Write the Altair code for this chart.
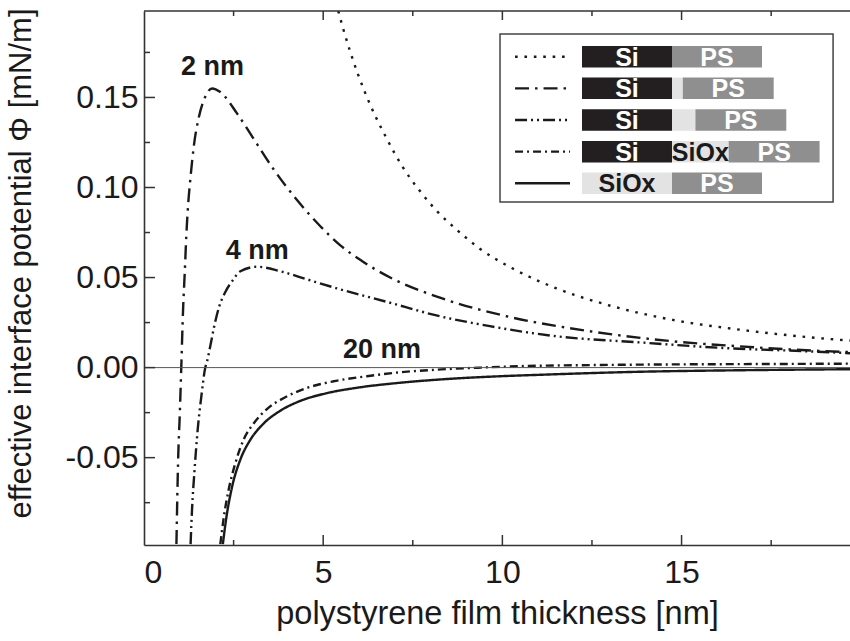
import altair as alt
import pandas as pd

# ---------------- data ----------------
series_names = ["Si/PS", "Si/2nm SiOx/PS", "Si/4nm SiOx/PS", "Si/20nm SiOx/PS", "SiOx/PS"]

x_si_ps = [5.42, 5.56, 5.95, 6.31, 6.75, 7.23, 7.70, 8.17, 8.73, 9.37, 10.29, 11.51, 12.90, 14.75, 16.61, 18.47, 19.7]
y_si_ps = [0.198, 0.188, 0.164, 0.146, 0.128, 0.111, 0.098, 0.087, 0.0765, 0.066, 0.055, 0.044, 0.035, 0.0265, 0.0211, 0.017, 0.015]

x_2nm = [0.905, 0.95, 1.00, 1.04, 1.09, 1.14, 1.18, 1.23, 1.30, 1.39, 1.53, 1.70, 1.90, 2.13, 2.60, 3.06, 3.62, 4.27, 4.92, 5.47, 6.08, 6.87, 8.26, 10.12, 12.44, 14.76, 16.62, 18.94, 19.7]
y_2nm = [-0.098, -0.053, -0.025, 0.0, 0.032, 0.054, 0.073, 0.090, 0.106, 0.123, 0.139, 0.150, 0.155, 0.153, 0.141, 0.127, 0.110, 0.093, 0.0785, 0.068, 0.0592, 0.0500, 0.0388, 0.0285, 0.0202, 0.0146, 0.0118, 0.0092, 0.0086]

x_4nm = [1.30, 1.34, 1.41, 1.50, 1.60, 1.71, 1.76, 1.85, 1.96, 2.10, 2.27, 2.46, 2.69, 3.15, 3.80, 4.55, 5.38, 6.87, 8.07, 9.65, 11.51, 13.83, 16.15, 18.47, 19.7]
y_4nm = [-0.098, -0.079, -0.057, -0.034, -0.016, 0.0, 0.0035, 0.012, 0.023, 0.034, 0.042, 0.048, 0.0535, 0.056, 0.0535, 0.049, 0.044, 0.036, 0.0294, 0.023, 0.0174, 0.0140, 0.0109, 0.0091, 0.0080]

x_20nm = [2.13, 2.22, 2.36, 2.55, 2.78, 3.06, 3.43, 3.89, 4.55, 5.29, 6.22, 7.14, 8.3, 9.4, 10.5, 12.5, 15.0, 17.5, 19.7]
y_20nm = [-0.098, -0.084, -0.068, -0.053, -0.040, -0.031, -0.023, -0.017, -0.0113, -0.0076, -0.0048, -0.0026, -0.0010, 0.0, 0.0008, 0.0014, 0.0018, 0.0020, 0.0022]

x_siox = [2.20, 2.30, 2.46, 2.69, 2.97, 3.34, 3.80, 4.36, 5.10, 5.94, 7.05, 8.26, 9.93, 11.04, 13.64, 16.5, 19.7]
y_siox = [-0.098, -0.083, -0.066, -0.051, -0.040, -0.031, -0.0240, -0.0185, -0.0142, -0.0112, -0.0086, -0.0066, -0.0048, -0.0040, -0.0024, -0.0015, -0.0009]

x_ticks_major = [0, 5, 10, 15]
x_ticks_minor = [2.5, 7.5, 12.5, 17.5]
y_ticks_major = [-0.05, 0.0, 0.05, 0.10, 0.15]
y_ticks_minor = [-0.075, -0.025, 0.025, 0.075, 0.125, 0.175]

label_text = ["2 nm", "4 nm", "20 nm"]
label_x = [1.91, 3.16, 6.64]
label_y = [0.167, 0.065, 0.010]

# legend schematic: layer widths in units of the Si block
legend_has_si = [True, True, True, True, False]
legend_oxide_width = [0.0, 0.12, 0.26, 0.63, 1.0]
legend_oxide_label = ["", "", "", "SiOx", "SiOx"]
legend_ps_width = [1.0, 1.01, 1.01, 1.01, 1.0]

# ---------------- layout / style constants ----------------
W, H = 706, 534
FONT = "Liberation Sans, Arial, Helvetica, sans-serif"
INK = "#1a1a1a"
dash_range = [[2.6, 6.8], [14, 6, 2.5, 6], [12, 4, 2, 4, 2, 4], [8, 4, 2, 4], [1, 0]]

xs_all = [x_si_ps, x_2nm, x_4nm, x_20nm, x_siox]
ys_all = [y_si_ps, y_2nm, y_4nm, y_20nm, y_siox]
rows = []
for name, xs, ys in zip(series_names, xs_all, ys_all):
    for i, (xv, yv) in enumerate(zip(xs, ys)):
        rows.append({"series": name, "x": xv, "y": yv, "order": i})
df = pd.DataFrame(rows)

xscale = alt.Scale(domain=[0, 19.7], nice=False, zero=False)
yscale = alt.Scale(domain=[-0.0985, 0.198], nice=False, zero=False)
dash_scale = alt.Scale(domain=series_names, range=dash_range)

curves = alt.Chart(df).mark_line(color=INK, strokeWidth=2.4, clip=True, interpolate="monotone", strokeCap="butt").encode(
    x=alt.X("x:Q", scale=xscale,
            axis=alt.Axis(title="polystyrene film thickness [nm]", values=x_ticks_major, ticks=False,
                          grid=False, labelPadding=12, titlePadding=9, titleFontSize=32.5,
                          domainColor="#333", domainWidth=1.6)),
    y=alt.Y("y:Q", scale=yscale,
            axis=alt.Axis(title="effective interface potential \u03a6 [mN/m]", values=y_ticks_major, ticks=False,
                          grid=False, labelPadding=6, titlePadding=28, titleFontSize=31, titleY=252,
                          domainColor="#333", domainWidth=1.6,
                          labelExpr="replace(format(datum.value, '.2f'), '\u2212', '-')")),
    strokeDash=alt.StrokeDash("series:N", scale=dash_scale, legend=None),
    detail="series:N",
    order="order:Q",
)

zero_line = alt.Chart(pd.DataFrame({"v": [0.0]})).mark_rule(color="#555", strokeWidth=1).encode(
    y=alt.Y("v:Q", scale=yscale, axis=None)
)

def yticks(vals, length):
    return alt.Chart(pd.DataFrame({"v": vals})).mark_rule(color="#333", strokeWidth=1.5).encode(
        y=alt.Y("v:Q", scale=yscale, axis=None),
        x=alt.value(0), x2=alt.value(length),
    )

def xticks(vals, length, top):
    y0 = 0 if top else H
    y1 = length if top else H - length
    return alt.Chart(pd.DataFrame({"v": vals})).mark_rule(color="#333", strokeWidth=1.5).encode(
        x=alt.X("v:Q", scale=xscale, axis=None),
        y=alt.value(y0), y2=alt.value(y1),
    )

top_frame = alt.Chart(pd.DataFrame({"v": [0]})).mark_rule(color="#333", strokeWidth=1.6).encode(
    x=alt.value(0), x2=alt.value(W), y=alt.value(0)
)

labels = alt.Chart(pd.DataFrame({"t": label_text, "x": label_x, "y": label_y})).mark_text(
    font=FONT, fontSize=27, fontWeight="bold", color=INK, align="center", baseline="middle"
).encode(
    x=alt.X("x:Q", scale=xscale, axis=None),
    y=alt.Y("y:Q", scale=yscale, axis=None),
    text="t:N",
)

# ---------------- legend (schematic units) ----------------
blocks = []
texts_white = []
texts_black = []
line_rows = []
half = 0.34
for r, (has_si, ox, oxl, psw) in enumerate(zip(legend_has_si, legend_oxide_width, legend_oxide_label, legend_ps_width)):
    pos = 0.0
    if has_si:
        blocks.append({"row": r, "x0": pos, "x1": pos + 1.0, "mat": "Si", "yt": r - half, "yb": r + half})
        texts_white.append({"row": r, "x": pos + 0.5, "t": "Si"})
        pos += 1.0
    if ox > 0:
        blocks.append({"row": r, "x0": pos, "x1": pos + ox, "mat": "SiOx", "yt": r - half, "yb": r + half})
        if oxl:
            texts_black.append({"row": r, "x": pos + ox / 2, "t": oxl})
        pos += ox
    blocks.append({"row": r, "x0": pos, "x1": pos + psw, "mat": "PS", "yt": r - half, "yb": r + half})
    texts_white.append({"row": r, "x": pos + psw / 2, "t": "PS"})
    line_rows.append({"series": series_names[r], "x": -0.744, "y": r})
    line_rows.append({"series": series_names[r], "x": -0.133, "y": r})

blocks_df = pd.DataFrame(blocks)
max_end = blocks_df["x1"].max()
n_rows = len(legend_has_si)

lx_scale = alt.Scale(domain=[-4.867, 2.978], nice=False, zero=False)
ly_scale = alt.Scale(domain=[-1.444, 15.428], nice=False, zero=False, reverse=True)

box = alt.Chart(pd.DataFrame({"x0": [-0.911], "x1": [max_end + 0.15], "y0": [-0.717], "y1": [n_rows - 1 + 0.59]})).mark_rect(
    fill="white", stroke="#444", strokeWidth=1.5
).encode(
    x=alt.X("x0:Q", scale=lx_scale, axis=None), x2="x1:Q",
    y=alt.Y("y0:Q", scale=ly_scale, axis=None), y2="y1:Q",
)

rects = alt.Chart(blocks_df).mark_rect().encode(
    x=alt.X("x0:Q", scale=lx_scale, axis=None), x2="x1:Q",
    y=alt.Y("yt:Q", scale=ly_scale, axis=None), y2="yb:Q",
    color=alt.Color("mat:N", scale=alt.Scale(domain=["Si", "SiOx", "PS"], range=["#231f20", "#e3e3e3", "#8f8f8f"]), legend=None),
)

leg_lines = alt.Chart(pd.DataFrame(line_rows)).mark_line(color=INK, strokeWidth=2.4, strokeCap="butt").encode(
    x=alt.X("x:Q", scale=lx_scale, axis=None),
    y=alt.Y("y:Q", scale=ly_scale, axis=None),
    strokeDash=alt.StrokeDash("series:N", scale=dash_scale, legend=None),
    detail="series:N",
)

tw = alt.Chart(pd.DataFrame(texts_white)).mark_text(
    font=FONT, fontSize=25, fontWeight="bold", color="white", align="center", baseline="middle", dy=1
).encode(
    x=alt.X("x:Q", scale=lx_scale, axis=None),
    y=alt.Y("row:Q", scale=ly_scale, axis=None),
    text="t:N",
)
tb = alt.Chart(pd.DataFrame(texts_black)).mark_text(
    font=FONT, fontSize=25, fontWeight="bold", color=INK, align="center", baseline="middle", dy=1
).encode(
    x=alt.X("x:Q", scale=lx_scale, axis=None),
    y=alt.Y("row:Q", scale=ly_scale, axis=None),
    text="t:N",
)

chart = alt.layer(
    curves, zero_line,
    yticks(y_ticks_major, 11), yticks(y_ticks_minor, 6),
    xticks(x_ticks_major[1:], 10, False), xticks(x_ticks_minor, 5, False),
    xticks(x_ticks_major[1:], 9, True), xticks(x_ticks_minor, 5, True),
    top_frame, labels,
    box, rects, leg_lines, tw, tb,
).resolve_scale(x="independent", y="independent").properties(
    width=W, height=H,
    autosize=alt.AutoSizeParams(type="none"),
    padding={"left": 144, "top": 11, "right": 0, "bottom": 96},
    background="white",
).configure_view(stroke=None).configure_axis(
    labelFont=FONT, titleFont=FONT, labelFontSize=32, titleFontSize=32,
    labelColor=INK, titleColor=INK, titleFontWeight="normal",
)

chart.save("out.html", embed_options={"renderer": "svg", "actions": False})
